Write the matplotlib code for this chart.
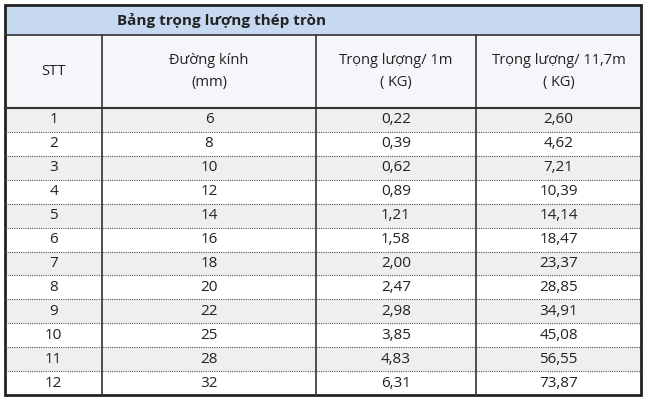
import matplotlib
matplotlib.use("Agg")
import matplotlib.pyplot as plt
from matplotlib.patches import Rectangle

title = "Bảng trọng lượng thép tròn"
headers = ["STT", "Đường kính\n(mm)", "Trọng lượng/ 1m\n( KG)", "Trọng lượng/ 11,7m\n( KG)"]
stt = ["1", "2", "3", "4", "5", "6", "7", "8", "9", "10", "11", "12"]
diameters = ["6", "8", "10", "12", "14", "16", "18", "20", "22", "25", "28", "32"]
weight_1m = ["0,22", "0,39", "0,62", "0,89", "1,21", "1,58", "2,00", "2,47", "2,98", "3,85", "4,83", "6,31"]
weight_117m = ["2,60", "4,62", "7,21", "10,39", "14,14", "18,47", "23,37", "28,85", "34,91", "45,08", "56,55", "73,87"]

fig = plt.figure(figsize=(6.47, 4.0), dpi=100)
ax = fig.add_axes([0, 0, 1, 1])
ax.set_xlim(0, 647); ax.set_ylim(400, 0); ax.axis("off")

FONT = "Open Sans"
L, R, T, B = 5, 641, 5, 395
colx = [L, 102, 316, 476, R]
title_b = 35
head_b = 108
rh = (B - head_b) / len(stt)

ax.add_patch(Rectangle((L, T), R - L, title_b - T, facecolor="#c6d9f0", edgecolor="none"))
ax.text(222, (T + title_b) / 2, title, ha="center", va="center", fontsize=11,
        fontweight="bold", family=FONT, color="#222222")
ax.add_patch(Rectangle((L, title_b), R - L, head_b - title_b, facecolor="#f4f6f9", edgecolor="none"))
for i, h in enumerate(headers):
    ax.text((colx[i] + colx[i + 1]) / 2, (title_b + head_b) / 2, h, ha="center", va="center",
            fontsize=10.5, family=FONT, color="#222222", linespacing=1.6)

rows = list(zip(stt, diameters, weight_1m, weight_117m))
for r, row in enumerate(rows):
    y0 = head_b + r * rh
    if r % 2 == 0:
        ax.add_patch(Rectangle((L, y0), R - L, rh, facecolor="#efefef", edgecolor="none"))
    for i, v in enumerate(row):
        ax.text((colx[i] + colx[i + 1]) / 2, y0 + rh / 2, v, ha="center", va="center",
                fontsize=11, family=FONT, color="#222222")
    if r > 0:
        ax.plot([L, R], [y0, y0], color="#555555", lw=0.8, ls=(0, (1, 1)))

ax.plot([L, R], [title_b, title_b], color="#333333", lw=1.2)
ax.plot([L, R], [head_b, head_b], color="#333333", lw=1.5)
for x in colx[1:-1]:
    ax.plot([x, x], [title_b, B], color="#333333", lw=1.2)
ax.add_patch(Rectangle((L, T), R - L, B - T, facecolor="none", edgecolor="#222222", lw=2))

fig.savefig("out.png", dpi=100)
